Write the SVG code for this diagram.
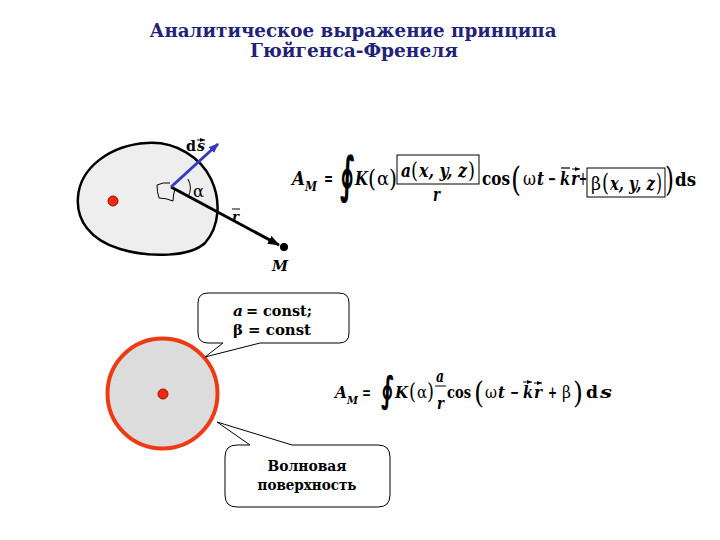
<svg xmlns="http://www.w3.org/2000/svg" width="720" height="540" viewBox="0 0 720 540">
<defs>
<style>
.title{font-weight:bold;font-size:19px;fill:#22227a;text-anchor:middle}
.mi{font-weight:bold;font-style:italic;fill:#000}
.mb{font-weight:bold;fill:#000}
.mr{font-weight:normal;fill:#000}
.int{font-weight:bold;fill:#000}
.thin{fill:none;stroke:#000;stroke-width:1}
.call{fill:#fff;stroke:#000;stroke-width:1}
</style>
<marker id="ahK" markerWidth="12" markerHeight="9" refX="11" refY="4.5" orient="auto" markerUnits="userSpaceOnUse"><path d="M0,0 L12,4.5 L0,9 Z" fill="#000"/></marker>
<marker id="ahB" markerWidth="10" markerHeight="8" refX="9" refY="4" orient="auto" markerUnits="userSpaceOnUse"><path d="M0,0 L10,4 L0,8 Z" fill="#3838c0"/></marker>
<marker id="vec" markerWidth="5" markerHeight="4" refX="5" refY="2" orient="auto" markerUnits="userSpaceOnUse"><path d="M0,0 L5,2 L0,4 Z" fill="#000"/></marker>
</defs>
<rect width="720" height="540" fill="#fff"/>

<g id="title" font-family="DejaVu Serif, Liberation Serif, serif">
<text class="title" x="353" y="37" textLength="407" lengthAdjust="spacingAndGlyphs">Аналитическое выражение принципа</text>
<text class="title" x="354" y="57" textLength="208" lengthAdjust="spacingAndGlyphs">Гюйгенса-Френеля</text>
</g>

<g id="surface" font-family="DejaVu Serif, Liberation Serif, serif">
<path d="M78,197 C80,168 110,145 147,143 C176,141 201,158 211,179 C221,200 220,226 205,243 C190,257 150,258 120,249 C90,240 76,220 78,197 Z" fill="#eeeeee" stroke="#000" stroke-width="2.5"/>
<circle cx="113" cy="201" r="5" fill="#ee2a12" stroke="#a01000" stroke-width="1"/>
<path class="thin" d="M157,185 Q163,182 170,183 M157,185 Q157,192 159,198 Q166,198 173,201 Q173,195 175,189"/>
<path class="thin" d="M188,179 A19,19 0 0 1 188,197"/>
<text class="mr" x="193" y="197" font-size="16" textLength="11" lengthAdjust="spacingAndGlyphs">α</text>
<text class="mb" x="186" y="151" font-size="14" textLength="10" lengthAdjust="spacingAndGlyphs">d</text>
<text class="mi" x="197" y="151" font-size="14" textLength="8" lengthAdjust="spacingAndGlyphs">s</text>
<line x1="197" y1="140" x2="205" y2="140" stroke="#000" stroke-width="1" marker-end="url(#vec)"/>
<text class="mi" x="232" y="221" font-size="13" textLength="7" lengthAdjust="spacingAndGlyphs">r</text>
<line x1="232" y1="209" x2="240" y2="209" stroke="#000" stroke-width="1"/>
</g>

<g id="pointM" font-family="DejaVu Serif, Liberation Serif, serif">
<circle cx="284" cy="247" r="4" fill="#000"/>
<text class="mi" x="272" y="271" font-size="15" textLength="16" lengthAdjust="spacingAndGlyphs">M</text>
</g>

<g id="connectors">
<line x1="171" y1="187" x2="279" y2="245" stroke="#000" stroke-width="3" marker-end="url(#ahK)"/>
<line x1="171" y1="187" x2="218" y2="144" stroke="#3838c0" stroke-width="3" marker-end="url(#ahB)"/>
</g>

<g id="formula1" font-family="DejaVu Serif, Liberation Serif, serif">
<text class="mi" x="292" y="185" font-size="18" textLength="13" lengthAdjust="spacingAndGlyphs">A</text>
<text class="mi" x="305" y="191" font-size="12" textLength="12" lengthAdjust="spacingAndGlyphs">M</text>
<text class="mb" x="324" y="185" font-size="18" textLength="9" lengthAdjust="spacingAndGlyphs">=</text>
<text class="int" font-family="DejaVu Sans, sans-serif" x="0" y="0" font-size="34" transform="translate(340,191.5) scale(0.75,1.46)">∮</text>
<text class="mi" x="355" y="185" font-size="18" textLength="13" lengthAdjust="spacingAndGlyphs">K</text>
<text class="mr" x="368" y="187" font-size="24" textLength="8" lengthAdjust="spacingAndGlyphs">(</text>
<text class="mr" x="377" y="185" font-size="18" textLength="12" lengthAdjust="spacingAndGlyphs">α</text>
<text class="mr" x="389" y="187" font-size="24" textLength="8" lengthAdjust="spacingAndGlyphs">)</text>
<rect class="thin" x="397" y="155" width="82" height="29"/>
<text class="mi" x="401" y="177" font-size="19" textLength="10" lengthAdjust="spacingAndGlyphs">a</text>
<text class="mr" x="411" y="178" font-size="23" textLength="7" lengthAdjust="spacingAndGlyphs">(</text>
<text class="mi" x="419" y="177" font-size="19" textLength="48" lengthAdjust="spacingAndGlyphs">x, y, z</text>
<text class="mr" x="468" y="178" font-size="23" textLength="7" lengthAdjust="spacingAndGlyphs">)</text>
<text class="mi" x="433" y="201" font-size="18" textLength="7" lengthAdjust="spacingAndGlyphs">r</text>
<text class="mb" x="482" y="185" font-size="19" textLength="28" lengthAdjust="spacingAndGlyphs">cos</text>
<text class="mr" x="511" y="191" font-size="34" textLength="10" lengthAdjust="spacingAndGlyphs">(</text>
<text class="mr" x="523" y="185" font-size="18" textLength="13" lengthAdjust="spacingAndGlyphs">ω</text>
<text class="mi" x="537" y="185" font-size="18" textLength="7" lengthAdjust="spacingAndGlyphs">t</text>
<text class="mb" x="548" y="185" font-size="18" textLength="8" lengthAdjust="spacingAndGlyphs">−</text>
<text class="mi" x="560" y="185" font-size="18" textLength="10" lengthAdjust="spacingAndGlyphs">k</text>
<line x1="561" y1="168" x2="570" y2="168" stroke="#000" stroke-width="1.2"/>
<text class="mi" x="571" y="185" font-size="18" textLength="8" lengthAdjust="spacingAndGlyphs">r</text>
<line x1="572" y1="169" x2="580" y2="169" stroke="#000" stroke-width="1" marker-end="url(#vec)"/>
<text class="mb" x="579" y="185" font-size="18" textLength="8" lengthAdjust="spacingAndGlyphs">+</text>
<rect class="thin" x="587" y="168" width="78" height="29"/>
<text class="mr" x="591" y="190" font-size="18" textLength="10" lengthAdjust="spacingAndGlyphs">β</text>
<text class="mr" x="602" y="191" font-size="24" textLength="7" lengthAdjust="spacingAndGlyphs">(</text>
<text class="mi" x="610" y="190" font-size="18" textLength="45" lengthAdjust="spacingAndGlyphs">x, y, z</text>
<text class="mr" x="656" y="191" font-size="24" textLength="6" lengthAdjust="spacingAndGlyphs">)</text>
<text class="mr" x="665" y="191" font-size="34" textLength="9" lengthAdjust="spacingAndGlyphs">)</text>
<text class="mb" x="675" y="186" font-size="18" textLength="21" lengthAdjust="spacingAndGlyphs">ds</text>
</g>

<g id="wavefront">
<circle cx="162.5" cy="393.5" r="55" fill="#dcdcdc" stroke="#ee3a14" stroke-width="4"/>
<circle cx="163" cy="394" r="5" fill="#ee2a12" stroke="#a01000" stroke-width="1"/>
</g>

<g id="callout1" font-family="DejaVu Serif, Liberation Serif, serif">
<path class="call" d="M208,293 H339 Q349,293 349,303 V333 Q349,343 339,343 H260 L205,357 L223,343 H208 Q198,343 198,333 V303 Q198,293 208,293 Z"/>
<text class="mi" x="233" y="316" font-size="15" textLength="10" lengthAdjust="spacingAndGlyphs">a</text>
<text class="mb" x="246" y="316" font-size="15" textLength="66" lengthAdjust="spacingAndGlyphs">= const;</text>
<text class="mb" x="233" y="335" font-size="15" textLength="78" lengthAdjust="spacingAndGlyphs">β = const</text>
</g>

<g id="callout2" font-family="DejaVu Serif, Liberation Serif, serif">
<path class="call" d="M237,445 H250 L217,422 L292,445 H378 Q390,445 390,457 V495 Q390,507 378,507 H237 Q225,507 225,495 V457 Q225,445 237,445 Z"/>
<text class="mb" x="307" y="471" font-size="14" text-anchor="middle" textLength="79" lengthAdjust="spacingAndGlyphs">Волновая</text>
<text class="mb" x="307" y="490" font-size="14" text-anchor="middle" textLength="99" lengthAdjust="spacingAndGlyphs">поверхность</text>
</g>

<g id="formula2" font-family="DejaVu Serif, Liberation Serif, serif">
<text class="mi" x="335" y="398" font-size="17" textLength="12" lengthAdjust="spacingAndGlyphs">A</text>
<text class="mi" x="347" y="404" font-size="11" textLength="11" lengthAdjust="spacingAndGlyphs">M</text>
<text class="mb" x="362" y="398" font-size="17" textLength="9" lengthAdjust="spacingAndGlyphs">=</text>
<text class="int" font-family="DejaVu Sans, sans-serif" x="0" y="0" font-size="30" transform="translate(381,402) scale(0.75,1.2)">∮</text>
<text class="mi" x="395" y="398" font-size="17" textLength="13" lengthAdjust="spacingAndGlyphs">K</text>
<text class="mr" x="409" y="399" font-size="22" textLength="7" lengthAdjust="spacingAndGlyphs">(</text>
<text class="mr" x="417" y="398" font-size="17" textLength="10" lengthAdjust="spacingAndGlyphs">α</text>
<text class="mr" x="427" y="399" font-size="22" textLength="7" lengthAdjust="spacingAndGlyphs">)</text>
<text class="mi" x="436" y="382" font-size="16" textLength="8" lengthAdjust="spacingAndGlyphs">a</text>
<line x1="435" y1="386" x2="446" y2="386" stroke="#000" stroke-width="1"/>
<text class="mi" x="437" y="409" font-size="16" textLength="7" lengthAdjust="spacingAndGlyphs">r</text>
<text class="mb" x="447" y="398" font-size="17" textLength="24" lengthAdjust="spacingAndGlyphs">cos</text>
<text class="mr" x="474" y="403" font-size="30" textLength="10" lengthAdjust="spacingAndGlyphs">(</text>
<text class="mr" x="485" y="398" font-size="17" textLength="12" lengthAdjust="spacingAndGlyphs">ω</text>
<text class="mi" x="498" y="398" font-size="17" textLength="7" lengthAdjust="spacingAndGlyphs">t</text>
<text class="mb" x="510" y="398" font-size="17" textLength="9" lengthAdjust="spacingAndGlyphs">−</text>
<text class="mi" x="523" y="398" font-size="17" textLength="10" lengthAdjust="spacingAndGlyphs">k</text>
<line x1="523" y1="382" x2="532" y2="382" stroke="#000" stroke-width="1" marker-end="url(#vec)"/>
<text class="mi" x="534" y="398" font-size="17" textLength="8" lengthAdjust="spacingAndGlyphs">r</text>
<line x1="534" y1="383" x2="542" y2="383" stroke="#000" stroke-width="1" marker-end="url(#vec)"/>
<text class="mb" x="548" y="398" font-size="17" textLength="9" lengthAdjust="spacingAndGlyphs">+</text>
<text class="mr" x="562" y="398" font-size="17" textLength="9" lengthAdjust="spacingAndGlyphs">β</text>
<text class="mr" x="573" y="403" font-size="30" textLength="10" lengthAdjust="spacingAndGlyphs">)</text>
<text class="mb" x="586" y="398" font-size="17" textLength="12" lengthAdjust="spacingAndGlyphs">d</text>
<text class="mi" x="600" y="398" font-size="17" textLength="12" lengthAdjust="spacingAndGlyphs">s</text>
</g>
</svg>
